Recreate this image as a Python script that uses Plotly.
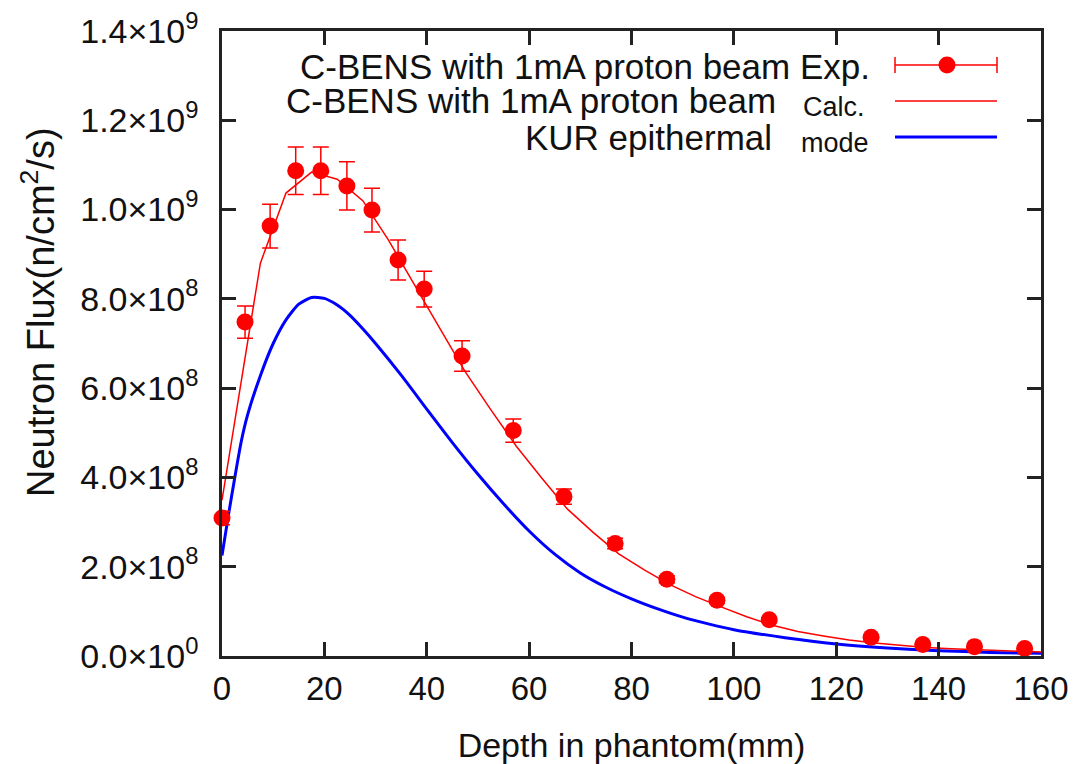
import plotly.graph_objects as go

# ---------------- data ----------------
depth_exp = [0, 4.5, 9.4, 14.4, 19.3, 24.4, 29.3, 34.4, 39.5, 46.9, 56.9, 66.8,
             76.8, 86.9, 96.7, 106.9, 126.8, 136.9, 147.0, 156.8]
flux_exp = [3.09e8, 7.48e8, 9.63e8, 1.087e9, 1.087e9, 1.053e9, 0.999e9, 0.887e9,
            0.822e9, 0.672e9, 0.505e9, 0.357e9, 0.252e9, 0.172e9, 0.125e9, 0.081e9,
            0.042e9, 0.026e9, 0.021e9, 0.017e9]
err_exp = [1.5e7, 3.6e7, 4.9e7, 5.3e7, 5.3e7, 5.4e7, 4.9e7, 4.5e7, 4.0e7, 3.4e7,
           2.6e7, 1.7e7, 1.2e7, 8e6, 6e6, 4e6, 2e6, 1.5e6, 1e6, 1e6]

depth_calc = [0, 7.5, 12.5, 17.5, 22.5, 27.5, 32.5, 37.5, 42.5, 47.5, 52.5, 57.5,
              62.5, 67.5, 72.5, 77.5, 82.5, 87.5, 92.5, 97.5, 102.5, 107.5, 112.5,
              117.5, 122.5, 127.5, 132.5, 137.5, 142.5, 147.5, 152.5, 157.5, 160]
flux_calc = [0.349e9, 0.88e9, 1.037e9, 1.084e9, 1.068e9, 1.02e9, 0.932e9, 0.832e9,
             0.735e9, 0.637e9, 0.552e9, 0.470e9, 0.398e9, 0.329e9, 0.277e9, 0.229e9,
             0.193e9, 0.160e9, 0.133e9, 0.110e9, 0.088e9, 0.069e9, 0.055e9, 0.045e9,
             0.036e9, 0.029e9, 0.024e9, 0.019e9, 0.016e9, 0.014e9, 0.012e9, 0.010e9,
             0.009e9]

depth_kur = [0, 1.25, 2.5, 3.75, 5, 7.5, 10, 12.5, 15, 17.5, 20, 22.5, 25, 27.5, 30,
             35, 40, 45, 50, 55, 60, 65, 70, 75, 80, 85, 90, 95, 100, 110, 120, 130,
             140, 150, 160]
flux_kur = [0.225e9, 0.315e9, 0.400e9, 0.480e9, 0.540e9, 0.628e9, 0.700e9, 0.753e9,
            0.788e9, 0.803e9, 0.801e9, 0.786e9, 0.763e9, 0.733e9, 0.700e9, 0.629e9,
            0.553e9, 0.478e9, 0.407e9, 0.341e9, 0.280e9, 0.228e9, 0.186e9, 0.154e9,
            0.128e9, 0.106e9, 0.087e9, 0.072e9, 0.059e9, 0.041e9, 0.027e9, 0.018e9,
            0.012e9, 0.008e9, 0.006e9]

x_ticks = [0, 20, 40, 60, 80, 100, 120, 140, 160]
y_ticks = [0, 2e8, 4e8, 6e8, 8e8, 1.0e9, 1.2e9, 1.4e9]
y_ticktext = ["0.0×10<sup>0</sup>", "2.0×10<sup>8</sup>", "4.0×10<sup>8</sup>",
              "6.0×10<sup>8</sup>", "8.0×10<sup>8</sup>", "1.0×10<sup>9</sup>",
              "1.2×10<sup>9</sup>", "1.4×10<sup>9</sup>"]

legend_labels = ["C-BENS with 1mA proton beam Exp.", "C-BENS with 1mA proton beam",
                 "KUR epithermal"]
legend_extra = ["Calc.", "mode"]

# ---------------- layout geometry (reference pixels) ----------------
OFF = 8  # page body margin shifts the figure by this much
W, H = 1081 - OFF, 764 - OFF
L, R, T, B = 222, 1041, 31, 656
FONT = "Liberation Sans, Arial, Helvetica, sans-serif"
RED = "#ff0000"
BLUE = "#0000ff"
INK = "#111111"


def px(xp):
    return (xp - L) / (R - L)


def py(yp):
    return (B - yp) / (B - T)


fig = go.Figure()

fig.add_trace(go.Scatter(
    x=depth_kur, y=flux_kur, mode="lines",
    line=dict(color=BLUE, width=3, shape="spline", smoothing=0.6),
    showlegend=False))

fig.add_trace(go.Scatter(
    x=depth_calc, y=flux_calc, mode="lines",
    line=dict(color=RED, width=1.5), showlegend=False))

fig.add_trace(go.Scatter(
    x=depth_exp, y=flux_exp, mode="markers",
    marker=dict(color=RED, size=17, line=dict(width=0)),
    error_y=dict(type="data", array=err_exp, visible=True, color=RED,
                 thickness=1.5, width=8),
    showlegend=False, cliponaxis=False))

axis_common = dict(
    showline=True, linecolor="#222222", linewidth=2.5, mirror="ticks",
    ticks="inside", ticklen=14, tickwidth=2.5, tickcolor="#222222",
    showgrid=False, zeroline=False, ticklabeloverflow="allow",
)

fig.update_xaxes(range=[0, 160], tickvals=x_ticks, ticklabelstandoff=2,
                 tickfont=dict(family=FONT, size=33, color=INK),
                 title=dict(text="Depth in phantom(mm)",
                            font=dict(family=FONT, size=34, color=INK),
                            standoff=30),
                 **axis_common)
fig.update_yaxes(range=[0, 1.4e9], tickvals=y_ticks, ticktext=y_ticktext,
                 ticklabelstandoff=14,
                 tickfont=dict(family=FONT, size=34, color=INK),
                 **axis_common)

annotations = [
    dict(text="Neutron Flux(n/cm<sup>2</sup>/s)", xref="paper", yref="paper",
         x=px(38), y=py(312), xanchor="center", yanchor="middle", textangle=-90,
         showarrow=False, font=dict(family=FONT, size=38, color=INK)),
    dict(text=legend_labels[0], xref="paper", yref="paper", x=px(872), y=py(67),
         xanchor="right", yanchor="middle", showarrow=False,
         font=dict(family=FONT, size=35, color=INK)),
    dict(text=legend_labels[1], xref="paper", yref="paper", x=px(778), y=py(101),
         xanchor="right", yanchor="middle", showarrow=False,
         font=dict(family=FONT, size=35, color=INK)),
    dict(text=legend_extra[0], xref="paper", yref="paper", x=px(834), y=py(107),
         xanchor="center", yanchor="middle", showarrow=False,
         font=dict(family=FONT, size=27, color=INK)),
    dict(text=legend_labels[2], xref="paper", yref="paper", x=px(774), y=py(137),
         xanchor="right", yanchor="middle", showarrow=False,
         font=dict(family=FONT, size=35, color=INK)),
    dict(text=legend_extra[1], xref="paper", yref="paper", x=px(835), y=py(143),
         xanchor="center", yanchor="middle", showarrow=False,
         font=dict(family=FONT, size=27, color=INK)),
]

# legend samples (drawn in paper coordinates)
sx0, sx1 = 895, 997
shapes = [
    dict(type="line", xref="paper", yref="paper", x0=px(sx0), x1=px(sx1),
         y0=py(65), y1=py(65), line=dict(color=RED, width=1.5)),
    dict(type="line", xref="paper", yref="paper", x0=px(sx0), x1=px(sx0),
         y0=py(57), y1=py(73), line=dict(color=RED, width=1.5)),
    dict(type="line", xref="paper", yref="paper", x0=px(sx1), x1=px(sx1),
         y0=py(57), y1=py(73), line=dict(color=RED, width=1.5)),
    dict(type="circle", xref="paper", yref="paper", x0=px(938.5), x1=px(955.5),
         y0=py(73.5), y1=py(56.5), fillcolor=RED, line=dict(color=RED, width=0)),
    dict(type="line", xref="paper", yref="paper", x0=px(sx0), x1=px(sx1),
         y0=py(101), y1=py(101), line=dict(color=RED, width=1.5)),
    dict(type="line", xref="paper", yref="paper", x0=px(sx0), x1=px(sx1),
         y0=py(137), y1=py(137), line=dict(color=BLUE, width=3)),
]

fig.update_layout(
    width=W, height=H,
    margin=dict(l=L - OFF, r=1081 - R, t=T - OFF, b=764 - B, autoexpand=False),
    plot_bgcolor="white", paper_bgcolor="white",
    annotations=annotations, shapes=shapes,
    showlegend=False,
)

fig.write_html("out.html")
